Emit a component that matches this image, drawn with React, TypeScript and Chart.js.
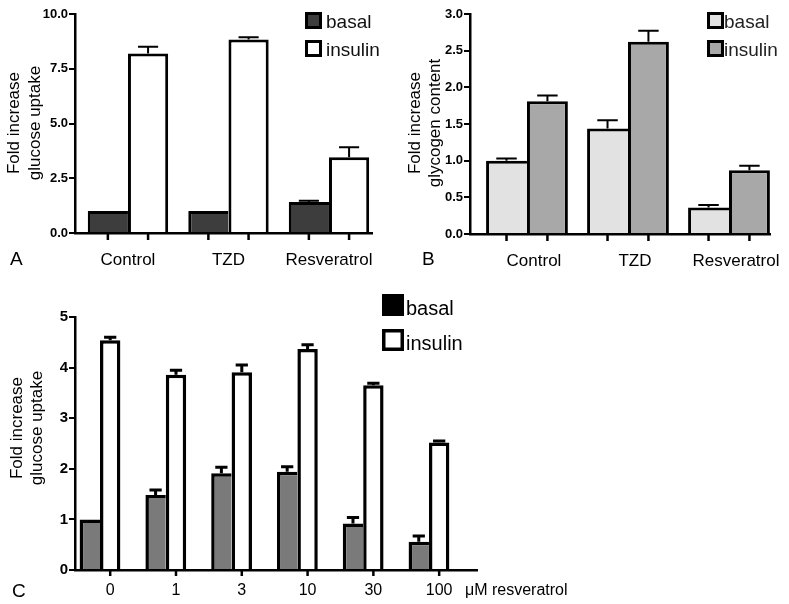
import { useEffect, useRef } from 'react';
import { Chart, registerables } from 'chart.js';

Chart.register(...registerables);

const FONT = "'Liberation Sans', Arial, Helvetica, sans-serif";

// ---------- Panel A : glucose uptake ----------
const categoriesA = ['Control', 'TZD', 'Resveratrol'];
const basalA = [1.0, 1.0, 1.42];
const basalErrA = [0, 0, 0.05];
const insulinA = [8.2, 8.84, 3.46];
const insulinErrA = [0.3, 0.1, 0.46];
const yTicksA = [0, 2.5, 5, 7.5, 10];

// ---------- Panel B : glycogen content ----------
const categoriesB = ['Control', 'TZD', 'Resveratrol'];
const basalB = [1.0, 1.44, 0.36];
const basalErrB = [0.03, 0.11, 0.035];
const insulinB = [1.81, 2.62, 0.87];
const insulinErrB = [0.08, 0.15, 0.06];
const yTicksB = [0, 0.5, 1, 1.5, 2, 2.5, 3];

// ---------- Panel C : resveratrol dose response ----------
const dosesC = ['0', '1', '3', '10', '30', '100'];
const basalC = [1.0, 1.48, 1.91, 1.94, 0.92, 0.56];
const basalErrC = [0, 0.1, 0.12, 0.1, 0.12, 0.11];
const insulinC = [4.54, 3.86, 3.91, 4.37, 3.65, 2.52];
const insulinErrC = [0.06, 0.09, 0.14, 0.08, 0.04, 0.03];
const yTicksC = [0, 1, 2, 3, 4, 5];

const errorBarPlugin = {
  id: 'errorBars',
  afterDatasetsDraw(chart: any, _a: any, o: any) {
    const { ctx } = chart;
    const yScale = chart.scales.y;
    chart.data.datasets.forEach((ds: any, di: number) => {
      const errs = ds.errors as number[] | undefined;
      if (!errs) return;
      const meta = chart.getDatasetMeta(di);
      meta.data.forEach((el: any, i: number) => {
        const e = errs[i];
        if (!e) return;
        const v = ds.data[i].y;
        const yTop = yScale.getPixelForValue(v);
        const yEnd = yScale.getPixelForValue(v + e);
        const half = (el.width * o.capRatio) / 2;
        ctx.save();
        ctx.strokeStyle = '#000';
        ctx.lineWidth = o.lineWidth;
        ctx.beginPath();
        ctx.moveTo(el.x, yTop);
        ctx.lineTo(el.x, yEnd);
        ctx.moveTo(el.x - half, yEnd);
        ctx.lineTo(el.x + half, yEnd);
        ctx.stroke();
        ctx.restore();
      });
    });
  },
};

const categoryAxisPlugin = {
  id: 'categoryAxis',
  afterDraw(chart: any, _a: any, o: any) {
    const { ctx, chartArea } = chart;
    const base = chartArea.bottom;
    ctx.save();
    ctx.strokeStyle = '#000';
    ctx.lineWidth = o.tickWidth;
    o.tickDatasets.forEach((di: number) => {
      chart.getDatasetMeta(di).data.forEach((el: any) => {
        ctx.beginPath();
        ctx.moveTo(el.x, base);
        ctx.lineTo(el.x, base + o.tickLength);
        ctx.stroke();
      });
    });
    ctx.fillStyle = '#000';
    ctx.font = o.font;
    ctx.textAlign = 'center';
    ctx.textBaseline = 'alphabetic';
    o.labels.forEach((lab: string, i: number) => {
      const x =
        o.labelDataset == null
          ? chart.scales.x.getPixelForValue(i)
          : chart.getDatasetMeta(o.labelDataset).data[i].x;
      ctx.fillText(lab, x + (o.labelDx || 0), o.labelY);
    });
    ctx.restore();
  },
};

const decorPlugin = {
  id: 'decor',
  afterDraw(chart: any, _a: any, o: any) {
    const { ctx } = chart;
    ctx.save();
    if (o.yTitle) {
      const t = o.yTitle;
      ctx.font = t.font;
      ctx.fillStyle = '#000';
      ctx.textAlign = 'center';
      ctx.textBaseline = 'middle';
      t.lines.forEach((line: string, k: number) => {
        ctx.save();
        ctx.translate(t.xs[k], t.cy);
        ctx.rotate(-Math.PI / 2);
        ctx.fillText(line, 0, 0);
        ctx.restore();
      });
    }
    if (o.legend) {
      const L = o.legend;
      chart.data.datasets.forEach((ds: any, k: number) => {
        const y = L.y + k * L.dy;
        ctx.fillStyle = (L.fills && L.fills[k]) || ds.backgroundColor;
        ctx.fillRect(L.x, y, L.size, L.size);
        ctx.lineWidth = L.border;
        ctx.strokeStyle = '#000';
        ctx.strokeRect(L.x + L.border / 2, y + L.border / 2, L.size - L.border, L.size - L.border);
        ctx.fillStyle = L.textColor;
        ctx.font = L.font;
        ctx.textAlign = 'left';
        ctx.textBaseline = 'alphabetic';
        ctx.fillText(ds.label, L.textX, y + L.baseline);
      });
    }
    (o.texts || []).forEach((t: any) => {
      ctx.font = t.font;
      ctx.fillStyle = '#000';
      ctx.textAlign = t.align || 'left';
      ctx.textBaseline = 'alphabetic';
      ctx.fillText(t.text, t.x, t.y);
    });
    ctx.restore();
  },
};

type Series = { label: string; values: number[]; errors: number[]; fill: string; borderWidth: any };

type Panel = {
  left: number;
  top: number;
  width: number;
  height: number;
  labels: string[];
  series: Series[];
  yTicks: number[];
  yDecimals: number;
  yTickFont: number;
  xMin: number;
  xMax: number;
  categoryPercentage: number;
  padding: any;
  yWidth: number;
  xHeight: number;
  axisWidth: number;
  errorBars: any;
  categoryAxis: any;
  decor: any;
};

function makeConfig(p: Panel): any {
  return {
    type: 'bar',
    data: {
      datasets: p.series.map((s) => ({
        label: s.label,
        data: s.values.map((y, i) => ({ x: i, y })),
        errors: s.errors,
        backgroundColor: s.fill,
        borderColor: '#000',
        borderWidth: s.borderWidth,
        borderSkipped: 'start',
        categoryPercentage: p.categoryPercentage,
        barPercentage: 1,
      })),
    },
    options: {
      responsive: false,
      animation: false,
      devicePixelRatio: 1,
      layout: { padding: p.padding },
      plugins: {
        legend: { display: false },
        tooltip: { enabled: false },
        errorBars: p.errorBars,
        categoryAxis: { ...p.categoryAxis, labels: p.labels },
        decor: p.decor,
      },
      scales: {
        x: {
          type: 'linear',
          min: p.xMin,
          max: p.xMax,
          offset: false,
          afterBuildTicks: (s: any) => {
            s.ticks = p.labels.map((_, i) => ({ value: i }));
          },
          afterFit: (s: any) => {
            s.height = p.xHeight;
          },
          ticks: { display: false },
          grid: { display: false },
          border: { display: true, color: '#000', width: p.axisWidth, z: 1 },
        },
        y: {
          type: 'linear',
          min: p.yTicks[0],
          max: p.yTicks[p.yTicks.length - 1],
          afterBuildTicks: (s: any) => {
            s.ticks = p.yTicks.map((v) => ({ value: v }));
          },
          afterFit: (s: any) => {
            s.width = p.yWidth;
          },
          ticks: {
            color: '#000',
            padding: 1,
            font: { family: FONT, size: p.yTickFont, weight: 'bold' },
            callback: (v: any) => Number(v).toFixed(p.yDecimals),
          },
          grid: {
            display: true,
            drawOnChartArea: false,
            drawTicks: true,
            tickLength: 6,
            color: '#000',
            lineWidth: 2,
          },
          border: { display: true, color: '#000', width: p.axisWidth },
        },
      },
    },
    plugins: [errorBarPlugin, categoryAxisPlugin, decorPlugin],
  };
}

const panelA: Panel = {
  left: 0,
  top: 0,
  width: 395,
  height: 272,
  labels: categoriesA,
  series: [
    { label: 'basal', values: basalA, errors: basalErrA, fill: '#3d3d3d', borderWidth: { left: 3, top: 3, right: 0, bottom: 0 } },
    { label: 'insulin', values: insulinA, errors: insulinErrA, fill: '#ffffff', borderWidth: { left: 3, top: 3, right: 3, bottom: 0 } },
  ],
  yTicks: yTicksA,
  yDecimals: 1,
  yTickFont: 13,
  xMin: -0.527,
  xMax: 2.428,
  categoryPercentage: 0.8,
  padding: { top: 14, right: 23, bottom: 0, left: 0 },
  yWidth: 75,
  xHeight: 39,
  axisWidth: 2.5,
  errorBars: { lineWidth: 2, capRatio: 0.5 },
  categoryAxis: { tickDatasets: [0, 1], tickLength: 7, tickWidth: 2.5, font: `17px ${FONT}`, labelY: 265, labelDx: 0 },
  decor: {
    yTitle: { lines: ['Fold increase', 'glucose uptake'], xs: [14, 35], cy: 123, font: `17px ${FONT}` },
    legend: { x: 305, y: 12, dy: 28, size: 17, border: 3, textX: 326, baseline: 15.5, font: `19px ${FONT}`, textColor: '#111' },
    texts: [{ text: 'A', x: 10, y: 265, font: `19px ${FONT}` }],
  },
};

const panelB: Panel = {
  left: 395,
  top: 0,
  width: 394,
  height: 272,
  labels: categoriesB,
  series: [
    { label: 'basal', values: basalB, errors: basalErrB, fill: '#e2e2e2', borderWidth: { left: 3, top: 3, right: 0, bottom: 0 } },
    { label: 'insulin', values: insulinB, errors: insulinErrB, fill: '#a8a8a8', borderWidth: { left: 3, top: 3, right: 3, bottom: 0 } },
  ],
  yTicks: yTicksB,
  yDecimals: 1,
  yTickFont: 13,
  xMin: -0.564,
  xMax: 2.406,
  categoryPercentage: 0.81,
  padding: { top: 14, right: 19, bottom: 0, left: 0 },
  yWidth: 75,
  xHeight: 38,
  axisWidth: 2.5,
  errorBars: { lineWidth: 2, capRatio: 0.5 },
  categoryAxis: { tickDatasets: [0, 1], tickLength: 7, tickWidth: 2.5, font: `17px ${FONT}`, labelY: 266, labelDx: 7 },
  decor: {
    yTitle: { lines: ['Fold increase', 'glycogen content'], xs: [20, 40], cy: 123, font: `17px ${FONT}` },
    legend: { x: 312, y: 12, dy: 28, size: 17, border: 3, textX: 329, baseline: 15.5, font: `19px ${FONT}`, textColor: '#222' },
    texts: [{ text: 'B', x: 27, y: 265, font: `19px ${FONT}` }],
  },
};

const panelC: Panel = {
  left: 0,
  top: 270,
  width: 789,
  height: 334,
  labels: dosesC,
  series: [
    { label: 'basal', values: basalC, errors: basalErrC, fill: '#7a7a7a', borderWidth: { left: 3.5, top: 3.5, right: 0, bottom: 0 } },
    { label: 'insulin', values: insulinC, errors: insulinErrC, fill: '#ffffff', borderWidth: { left: 3.5, top: 3.5, right: 3.5, bottom: 0 } },
  ],
  yTicks: yTicksC,
  yDecimals: 0,
  yTickFont: 15,
  xMin: -0.38,
  xMax: 5.73,
  categoryPercentage: 0.62,
  padding: { top: 47, right: 312, bottom: 0, left: 0 },
  yWidth: 75,
  xHeight: 34,
  axisWidth: 2.5,
  errorBars: { lineWidth: 3, capRatio: 0.6 },
  categoryAxis: { tickDatasets: [1], tickLength: 6, tickWidth: 2.5, font: `16px ${FONT}`, labelY: 325, labelDataset: 1, labelDx: 0 },
  decor: {
    yTitle: { lines: ['Fold increase', 'glucose uptake'], xs: [17, 37], cy: 158, font: `17px ${FONT}` },
    legend: { x: 382, y: 24, dy: 35, size: 22, border: 3.5, textX: 406, baseline: 21, font: `20px ${FONT}`, textColor: '#000', fills: ['#000000', '#ffffff'] },
    texts: [
      { text: 'C', x: 12, y: 327, font: `19px ${FONT}` },
      { text: 'μM resveratrol', x: 465, y: 325, font: `16px ${FONT}` },
    ],
  },
};

function BarPanel({ panel }: { panel: Panel }) {
  const ref = useRef<HTMLCanvasElement>(null);
  useEffect(() => {
    const chart = new Chart(ref.current as HTMLCanvasElement, makeConfig(panel));
    return () => chart.destroy();
  }, [panel]);
  return (
    <canvas
      ref={ref}
      width={panel.width}
      height={panel.height}
      style={{ position: 'absolute', left: panel.left, top: panel.top, width: panel.width, height: panel.height }}
    />
  );
}

export default function App() {
  return (
    <div style={{ position: 'absolute', left: 0, top: 0, width: 789, height: 604, background: '#fff', overflow: 'hidden' }}>
      <BarPanel panel={panelA} />
      <BarPanel panel={panelB} />
      <BarPanel panel={panelC} />
    </div>
  );
}
